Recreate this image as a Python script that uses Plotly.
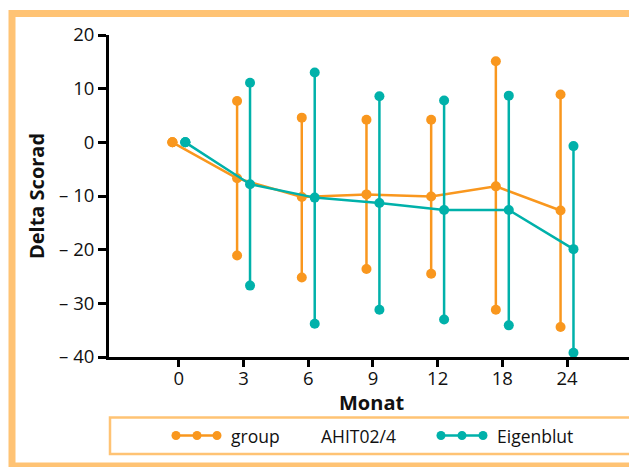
import plotly.graph_objects as go

# ---- data ----
months = ["0", "3", "6", "9", "12", "18", "24"]
series_names = ["group     AHIT02/4", "Eigenblut"]

ahit_mean = [0, -6.7, -10.2, -9.7, -10.1, -8.2, -12.7]
ahit_upper = [0, 7.7, 4.6, 4.2, 4.2, 15.1, 8.9]
ahit_lower = [0, -21.1, -25.2, -23.6, -24.5, -31.2, -34.4]

eigen_mean = [0, -7.8, -10.3, -11.3, -12.6, -12.6, -19.9]
eigen_upper = [0, 11.1, 13.0, 8.6, 7.8, 8.7, -0.7]
eigen_lower = [0, -26.7, -33.8, -31.2, -33.0, -34.1, -39.2]

y_ticks = [-40, -30, -20, -10, 0, 10, 20]
y_ticktext = ["– 40", "– 30", "– 20", "– 10", "0", "10", "20"]

# ---- style ----
ORANGE = "#F9971E"
TEAL = "#00B1AA"
FRAME = "#FFC374"
FONT = "Open Sans"

W, H = 637, 467
OFF = 8  # page body margin: screen coordinate = figure coordinate + OFF
# plot area in screen pixels
PL, PR, PT, PB = 109, 633, 35, 357
ML, MT = PL - OFF, PT - OFF
MR, MB = W - (PR - OFF), H - (PB - OFF)
PW, PH = PR - PL, PB - PT


def px(x):
    return (x - PL) / PW


def py(y):
    return (PB - y) / PH


fig = go.Figure()

groups = [
    (ahit_mean, ahit_upper, ahit_lower, ORANGE, -0.1),
    (eigen_mean, eigen_upper, eigen_lower, TEAL, 0.1),
]

for mean, upper, lower, color, off in groups:
    xs = [i + off for i in range(len(months))]
    fig.add_trace(go.Scatter(
        x=xs, y=mean, mode="lines+markers",
        line=dict(color=color, width=2.5),
        marker=dict(color=color, size=10),
        error_y=dict(type="data", symmetric=False,
                     array=[u - m for u, m in zip(upper, mean)],
                     arrayminus=[m - l for m, l in zip(mean, lower)],
                     color=color, thickness=2.5, width=0),
        showlegend=False, cliponaxis=False,
    ))
    fig.add_trace(go.Scatter(
        x=xs + xs, y=upper + lower, mode="markers",
        marker=dict(color=color, size=10),
        showlegend=False, cliponaxis=False,
    ))

shapes = []
annotations = []

# outer frame
shapes.append(dict(type="rect", xref="paper", yref="paper",
                   x0=px(12), x1=px(660), y0=py(466), y1=py(13.5),
                   line=dict(color=FRAME, width=7), layer="below"))
# legend box
shapes.append(dict(type="rect", xref="paper", yref="paper",
                   x0=px(110), x1=px(632), y0=py(454), y1=py(417.5),
                   line=dict(color=FRAME, width=2.5)))

legend_items = [
    (series_names[0], ORANGE, [176, 197, 217], 229),
    (series_names[1], TEAL, [441, 462, 483], 495),
]
ly = 435.5
for name, color, dots, tx in legend_items:
    shapes.append(dict(type="line", xref="paper", yref="paper",
                       x0=px(dots[0]), x1=px(dots[-1]), y0=py(ly), y1=py(ly),
                       line=dict(color=color, width=2.5)))
    for d in dots:
        shapes.append(dict(type="circle", xref="paper", yref="paper",
                           x0=px(d - 4.5), x1=px(d + 4.5),
                           y0=py(ly + 4.5), y1=py(ly - 4.5),
                           fillcolor=color, line=dict(width=0)))
    parts = name.split("     ")
    annotations.append(dict(text=parts[0], xref="paper", yref="paper",
                            x=px(tx), y=py(ly), xanchor="left", yanchor="middle",
                            showarrow=False, font=dict(family=FONT, size=17.5, color="#111")))
    if len(parts) > 1:
        annotations.append(dict(text=parts[1], xref="paper", yref="paper",
                                x=px(319), y=py(ly), xanchor="left", yanchor="middle",
                                showarrow=False, font=dict(family=FONT, size=17.5, color="#111")))

# x-axis title
annotations.append(dict(text="<b>Monat</b>", xref="paper", yref="paper",
                        x=px(371), y=py(402), xanchor="center", yanchor="middle",
                        showarrow=False, font=dict(family=FONT, size=20, color="#111")))

fig.update_layout(
    width=W, height=H,
    margin=dict(l=ML, r=MR, t=MT, b=MB, autoexpand=False),
    paper_bgcolor="white", plot_bgcolor="white",
    font=dict(family=FONT, size=19, color="#111"),
    shapes=shapes, annotations=annotations,
    showlegend=False,
)

fig.update_xaxes(
    range=[-1.08, 7.02],
    tickvals=list(range(len(months))), ticktext=months,
    tickfont=dict(size=18.5),
    showgrid=False, zeroline=False,
    showline=True, linecolor="black", linewidth=3,
    ticks="outside", ticklen=7, tickwidth=2.5, tickcolor="black",
    ticklabelstandoff=-4,
)
fig.update_yaxes(
    range=[-40, 20],
    tickvals=y_ticks, ticktext=y_ticktext,
    tickfont=dict(size=18.5),
    showgrid=False, zeroline=False,
    showline=True, linecolor="black", linewidth=3,
    ticks="outside", ticklen=8, tickwidth=2.5, tickcolor="black",
    ticklabelstandoff=0,
    title=dict(text="<b>Delta Scorad</b>", font=dict(family=FONT, size=20), standoff=10),
)

fig.write_html("out.html")
